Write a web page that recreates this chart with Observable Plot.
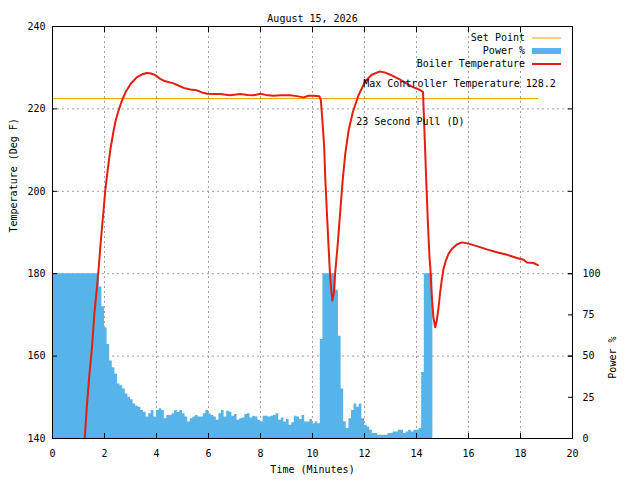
<!DOCTYPE html>
<html>
<head>
<meta charset="utf-8">
<script src="https://cdn.jsdelivr.net/npm/d3@7"></script>
<script src="https://cdn.jsdelivr.net/npm/@observablehq/plot@0.6"></script>
<style>
  body { margin: 0; background: #fff; }
  #chart { width: 640px; height: 480px; }
</style>
</head>
<body>
<div id="chart"></div>
<script>
// ---- Text ----
const titleText = "August 15, 2026";
const xLabel = "Time (Minutes)";
const yLabel = "Temperature (Deg F)";
const y2Label = "Power %";
const legendLabels = ["Set Point", "Power %", "Boiler Temperature"];

// ---- Ticks ----
const xTicks = [0, 2, 4, 6, 8, 10, 12, 14, 16, 18, 20];
const tempTicks = [140, 160, 180, 200, 220, 240];
const powerTicks = [0, 25, 50, 75, 100];

// ---- Power % (bins of 0.1 minute starting at 0) ----
const powerStart = 0;
const powerStep = 0.1;
const powerEnd = 14.63;
const powerValues = [
  100,100,100,100,100,100,100,100,100,100,100,100,100,100,100,100,100,100, // 0.0-1.7
  92,80,67,57,47,43,39,33,32,30,27,25,              // 1.8-2.9
  23.5,21,19.5,19,17,16,13,15,17,13,                // 3.0-3.9
  17,18,17,12,14,14,15,17,16,17,                    // 4.0-4.9
  15,13,10,12,13,14,13,13,15,17,                    // 5.0-5.9
  15,14,13,11,15,17,13,16.5,16,13.5,                // 6.0-6.9
  14.5,11,12,12.5,14.5,15,12.5,13.5,13,11,          // 7.0-7.9
  10,13.5,13.5,13,13.5,14,15,11,12.5,10,            // 8.0-8.9
  11.5,8,9.5,13.5,13,11.5,14,10,10,11.5,            // 9.0-9.9
  9,10,9,60,100,100,100,100,100,90,                 // 10.0-10.9
  62,30,10,6,12,17,21,19,21,12,                     // 11.0-11.9
  8,7,5,3,3,2,2,2,2,3,                              // 12.0-12.9
  3,4,4,5,5,3,4,5,4,5,                              // 13.0-13.9
  5,6,40,100,100,100,100                            // 14.0-14.6
];

// ---- Boiler temperature ----
const tempTime = [
  1.15,1.24,1.32,1.41,1.52,1.61,1.71,1.78,1.86,1.94,2.03,2.12,2.22,2.33,2.43,2.54,2.67,2.83,
  3.01,3.25,3.45,3.63,3.80,3.95,4.14,4.34,4.65,4.80,5.04,5.30,5.55,5.75,5.94,6.20,6.45,6.83,
  7.22,7.50,7.73,7.99,8.20,8.50,8.80,9.14,9.40,9.65,9.85,10.04,10.26,10.32,10.38,10.45,10.49,
  10.55,10.62,10.68,10.76,10.82,10.87,10.96,11.07,11.16,11.26,11.39,11.55,11.77,12.03,12.28,
  12.60,12.80,12.99,13.37,13.82,14.14,14.25,14.30,14.37,14.44,14.50,14.53,14.59,14.65,14.72,
  14.78,14.85,14.91,14.98,15.04,15.13,15.23,15.36,15.55,15.75,16.00,16.32,16.71,17.09,17.48,
  17.86,18.12,18.25,18.50,18.67
];
const tempValue = [
  137,140,147.6,154.9,162.2,170.3,176.7,181.6,188.1,193.7,200.2,205,209.9,214,217.2,219.6,222,224.3,
  226.1,227.7,228.4,228.7,228.6,228.2,227.3,226.7,226.2,225.8,225.1,224.7,224.5,224.0,223.7,223.6,223.6,223.3,
  223.6,223.4,223.3,223.7,223.4,223.2,223.3,223.3,223.1,222.8,223.2,223.2,223.1,222.2,217.2,210.7,203.4,
  195.3,186.4,179.1,173.5,175.1,180,186.4,195.3,202.6,209.1,214.8,219.2,223.3,226.7,228.3,
  229.1,228.8,228.3,227.1,225.4,224.6,224.1,215.6,203.4,192,184,181.6,174.3,169.4,167,
  168.6,171.9,175.5,178.8,181.2,183.2,184.8,186,187.1,187.6,187.3,186.7,185.9,185.2,184.6,
  183.8,183.4,182.7,182.6,182.1
];

// ---- Set point ----
const setPointTime = [0, 18.67];
const setPointValue = [222.5, 222.5];

// ---- Annotations ----
const noteText = ["Max Controller Temperature 128.2", "23 Second Pull (D)"];
const noteX = [11.95, 11.68];
const noteY = [226.1, 216.8];

// ---- Colours ----
const colSet = "#e69f00", colPower = "#56b4e9", colTemp = "#e51e10";

// power axis mapped onto temperature axis: 0% -> 140, 100% -> 180
const powerBase = 140, powerScale = 0.4;
const p2t = p => powerBase + powerScale * p;

const powerData = powerValues.map((p, i) => ({t: powerStart + i * powerStep, p}));
powerData.push({t: powerEnd, p: 0});
const tempData = tempTime.map((t, i) => ({t, v: tempValue[i]}));
const setData = setPointTime.map((t, i) => ({t, v: setPointValue[i]}));
const notes = noteText.map((s, i) => ({s, x: noteX[i], y: noteY[i]}));

const font = "DejaVu Sans Mono";
const gridStyle = {stroke: "#a0a0a0", strokeOpacity: 1, strokeDasharray: "2,3"};

const chart = Plot.plot({
  width: 640,
  height: 480,
  marginLeft: 52,
  marginRight: 68,
  marginTop: 26,
  marginBottom: 42,
  style: {fontFamily: font, fontSize: "10px", color: "black", background: "white"},
  x: {domain: [0, 20]},
  y: {domain: [140, 240]},
  marks: [
    Plot.gridX(xTicks.slice(1, -1), gridStyle),
    Plot.gridY(tempTicks.slice(1, -1), gridStyle),
    Plot.areaY(powerData, {x: "t", y1: powerBase, y2: d => p2t(d.p), curve: "step-after", fill: colPower}),
    Plot.line(setData, {x: "t", y: "v", stroke: colSet, strokeWidth: 1}),
    Plot.line(tempData, {x: "t", y: "v", stroke: colTemp, strokeWidth: 2, clip: true}),
    Plot.text(notes, {x: "x", y: "y", text: "s", textAnchor: "start"}),
    Plot.frame({stroke: "black"}),
    Plot.axisX(xTicks, {anchor: "bottom", tickSize: -5, tickPadding: 16, label: null}),
    Plot.axisX(xTicks, {anchor: "top", tickSize: -5, fill: "none", label: null}),
    Plot.axisY(tempTicks, {anchor: "left", tickSize: -5, tickPadding: 12, label: null}),
    Plot.axisY(tempTicks, {anchor: "right", tickSize: -5, fill: "none", label: null}),
    Plot.axisY(powerTicks.map(p2t), {anchor: "right", tickSize: -5, tickPadding: 15, label: null,
      tickFormat: d => String(Math.round((d - powerBase) / powerScale)), textAnchor: "start"}),
    Plot.text([titleText], {text: d => d, frameAnchor: "top", dy: -12}),
    Plot.text([xLabel], {text: d => d, frameAnchor: "bottom", dy: 34}),
    Plot.text([yLabel], {text: d => d, frameAnchor: "left", dx: -39, rotate: -90}),
    Plot.text([y2Label], {text: d => d, frameAnchor: "bottom-right", dx: 43, dy: -102, rotate: -90})
  ]
});
document.getElementById("chart").appendChild(chart);

// ---- Legend (inside top-right of the frame) ----
const xr = chart.scale("x").range, yr = chart.scale("y").range;
const fr = Math.max(...xr), ft = Math.min(...yr);
const svg = d3.select(chart);
const lg = svg.append("g").attr("font-family", font).attr("font-size", 10);
legendLabels.forEach((lab, i) => {
  const cy = ft + 12 + i * 13;
  lg.append("text").attr("x", fr - 47).attr("y", cy).attr("dy", "0.32em")
    .attr("text-anchor", "end").attr("fill", "black").text(lab);
  if (i === 0) {
    lg.append("line").attr("x1", fr - 40).attr("x2", fr - 11).attr("y1", cy).attr("y2", cy)
      .attr("stroke", colSet).attr("stroke-width", 1);
  } else if (i === 1) {
    lg.append("rect").attr("x", fr - 40).attr("width", 29).attr("y", cy - 3).attr("height", 6)
      .attr("fill", colPower);
  } else {
    lg.append("line").attr("x1", fr - 40).attr("x2", fr - 11).attr("y1", cy).attr("y2", cy)
      .attr("stroke", colTemp).attr("stroke-width", 2);
  }
});
</script>
</body>
</html>
